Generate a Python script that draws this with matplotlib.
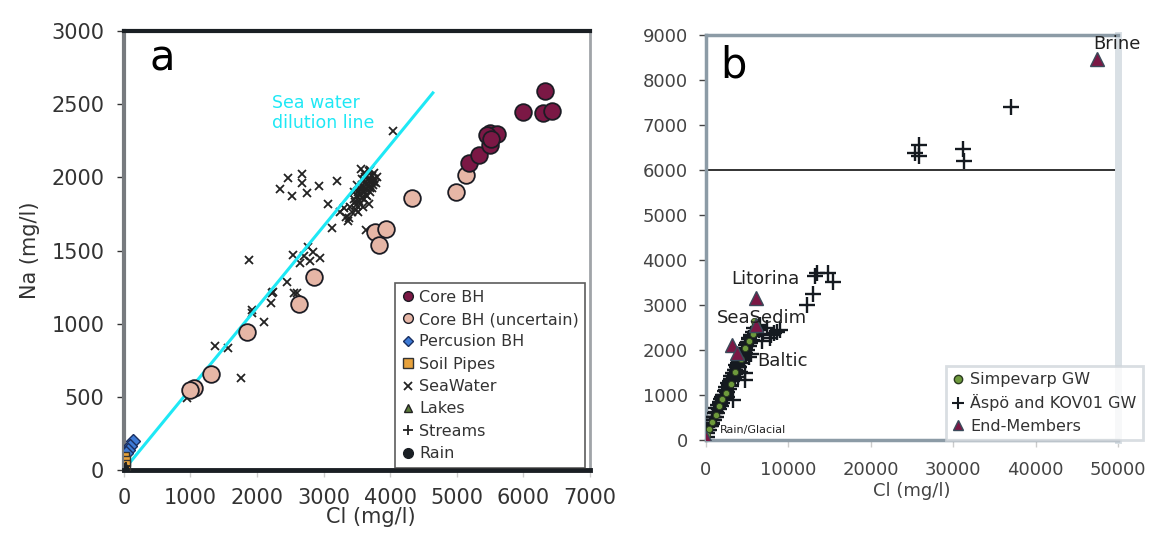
import matplotlib
matplotlib.use("Agg")
import matplotlib.pyplot as plt
from matplotlib.lines import Line2D

plt.rcParams['font.family'] = ['DejaVu Sans']

# ---- panel a : Na vs Cl, surface and near-surface waters ----
core_bh_cl = [5180, 5330, 5495, 5495, 5600, 5450, 5520, 5990, 6290, 6426, 6321]
core_bh_na = [2099, 2153, 2221, 2304, 2297, 2290, 2260, 2447, 2440, 2454, 2590]

core_unc_cl = [4324, 3770, 3934, 3830, 2853, 2628, 1847, 1306, 1051, 1000, 4985, 5135]
core_unc_na = [1859, 1627, 1647, 1538, 1319, 1135, 943, 656, 560, 545, 1900, 2016]

perc_cl = [140, 100, 60, 30]
perc_na = [195, 165, 140, 115]

soil_cl = [10, 20, 15]
soil_na = [90, 60, 35]

lakes_cl = [10, 25]
lakes_na = [15, 25]

streams_cl = [15, 30, 40]
streams_na = [20, 30, 10]

rain_cl = [2]
rain_na = [2]

sea_cl = [2462, 2673, 2673, 2342, 2522, 2748, 2928, 3198, 3063, 3333, 3123, 3633,
          1877, 2447, 2597, 2222, 1366, 1561, 1757, 2102, 2207, 2237, 1922, 1922,
          2552, 2537, 2643, 2763, 2838, 2943, 961, 946, 4040, 2700, 2800,
          3400, 3450, 3500, 3520, 3550, 3580, 3600, 3620, 3650, 3680, 3700, 3560,
          3600, 3750, 3780, 3720, 3690, 3650, 3600, 3550, 3480, 3420, 3380, 3360,
          3700, 3760, 3800, 3640, 3560, 3500, 3450, 3590, 3680, 3520, 3300, 3250,
          3610, 3660, 3710, 3740, 3570, 3630, 3530, 3470, 3670, 3720, 3590, 3640,
          3540, 3490, 3700, 3760, 3620, 3580]
sea_na = [1996, 2023, 1962, 1920, 1873, 1893, 1941, 1975, 1818, 1729, 1654, 1640,
          1435, 1285, 1210, 1210, 848, 834, 629, 1012, 1141, 1217, 1094, 1070,
          1210, 1470, 1415, 1524, 1490, 1449, 547, 492, 2320, 1460, 1430,
          1800, 1850, 1870, 1900, 1920, 1950, 1980, 2000, 2010, 2040, 2050, 2060,
          2030, 1990, 1960, 1930, 1900, 1870, 1850, 1820, 1780, 1760, 1720, 1700,
          1980, 2030, 2000, 1950, 1890, 1950, 1900, 1800, 1820, 1760, 1790, 1760,
          1910, 1940, 1970, 1950, 1860, 1880, 1840, 1830, 1990, 2010, 1930, 1920,
          1880, 1810, 1930, 1970, 1960, 1990]

dilution_cl = [0, 4640]
dilution_na = [0, 2577]

# ---- panel b : groundwaters and end-members ----
simp_cl = [6000, 5900, 6100, 5700, 5300, 4800, 4300, 3600, 3000, 2500, 2000, 1600,
           1200, 800, 400, 200, 6200, 5800]
simp_na = [2600, 2500, 2450, 2350, 2200, 2050, 1800, 1500, 1250, 1050, 900, 750,
           560, 400, 250, 120, 2550, 2650]

aspo_cl = [37010, 25360, 25890, 25890, 31150, 31350, 13230, 14800, 15430, 13000,
           12250, 13500, 8600, 7770, 9000, 4730, 4730, 3300,
           200, 400, 600, 800, 1000, 1200, 1400, 1600, 1800, 2000, 2200, 2400,
           2600, 2800, 3000, 3200, 3400, 3600, 3800, 4000, 4200, 4400, 4600, 4800,
           5000, 5200, 5400, 5600, 5800, 6000, 3000, 3500, 4000, 4500, 5000, 5500,
           2500, 2000, 1500, 1000, 6500, 7000, 6800, 5500, 4200,
           100, 300, 500, 700, 900, 1100, 1300, 1500, 1700, 1900, 2100, 2300,
           2500, 2700, 2900, 3100, 3300, 3500, 3700, 3900, 4100, 4300, 4500, 4700,
           4900, 5100, 5300, 5500, 5700, 5900, 2800, 3300, 3800, 4300, 4800, 5300,
           2200, 1700, 1200, 700, 6300, 6600, 7400, 7900, 8300, 5200, 3900, 2600]
aspo_na = [7393, 6384, 6556, 6311, 6460, 6200, 3644, 3718, 3510, 3240,
           3000, 3700, 2400, 2270, 2450, 1490, 1333, 890,
           150, 230, 300, 380, 450, 520, 600, 680, 750, 820, 900, 980,
           1060, 1130, 1200, 1300, 1380, 1460, 1540, 1620, 1700, 1780, 1850, 1930,
           2000, 2080, 2150, 2230, 2300, 2380, 1350, 1550, 1750, 1900, 2150, 2300,
           1100, 950, 700, 520, 2450, 2350, 2200, 1900, 1500,
           60, 220, 320, 440, 520, 600, 700, 770, 850, 920, 1010, 1080,
           1180, 1260, 1320, 1420, 1480, 1560, 1660, 1720, 1800, 1880, 1960, 2030,
           2110, 2180, 2260, 2330, 2410, 2480, 1220, 1420, 1630, 1850, 2050, 2250,
           1010, 830, 620, 350, 2500, 2560, 2480, 2330, 2380, 1850, 1400, 950]

end_names = ['Brine', 'Litorina', 'SeaSedim', 'Baltic', 'Baltic', 'Rain/Glacial']
end_cl = [47400, 6150, 6100, 3240, 3800, 50]
end_na = [8460, 3163, 2550, 2111, 1940, 40]

fig = plt.figure(figsize=(11.57, 5.4), dpi=100)
fig.patch.set_facecolor('white')

ax1 = fig.add_axes([0.107, 0.1296, 0.403, 0.813])
ax2 = fig.add_axes([0.610, 0.1852, 0.3563, 0.750])

maroon = '#7b1845'
peach = '#e6b6a6'
edge = '#1c1c24'

# panel a
ax1.plot(sea_cl, sea_na, 'x', color='#222222', ms=6, mew=1.3, zorder=3)
ax1.plot(dilution_cl, dilution_na, '-', color='#1ee8f5', lw=2.2, zorder=4)
ax1.plot(core_unc_cl, core_unc_na, 'o', color=peach, mec=edge, ms=12, mew=1.3, zorder=5)
ax1.plot(core_bh_cl, core_bh_na, 'o', color=maroon, mec=edge, ms=12, mew=1.3, zorder=6)
ax1.plot(perc_cl, perc_na, 'D', color='#3d7ad6', mec='#1a2f60', ms=7, mew=1, zorder=6)
ax1.plot(soil_cl, soil_na, 's', color='#e8a23c', mec='#333333', ms=7, mew=1, zorder=6)
ax1.plot(lakes_cl, lakes_na, '^', color='#5a7a3a', mec='#222222', ms=6, mew=1, zorder=6)
ax1.plot(streams_cl, streams_na, '+', color='#222222', ms=6, mew=1.3, zorder=6)
ax1.plot(rain_cl, rain_na, 'o', color='#1a1f24', ms=6, zorder=6)

ax1.set_xlim(0, 7000)
ax1.set_ylim(0, 3000)
ax1.set_xticks(range(0, 7001, 1000))
ax1.set_yticks(range(0, 3001, 500))
ax1.tick_params(axis='both', labelsize=15, colors='#333333', length=5, width=1)
ax1.tick_params(axis='x', pad=8, color='#cccccc')
ax1.tick_params(axis='y', pad=9)
ax1.spines['top'].set_color('#1a1f24')
ax1.spines['top'].set_linewidth(3)
ax1.spines['bottom'].set_color('#1a1f24')
ax1.spines['bottom'].set_linewidth(3.5)
ax1.spines['left'].set_color('#777a7e')
ax1.spines['left'].set_linewidth(3)
ax1.spines['right'].set_color('#a0a4a8')
ax1.spines['right'].set_linewidth(2)
ax1.set_xlabel('Cl (mg/l)', fontsize=15, color='#333333')
ax1.xaxis.set_label_coords(0.53, -0.085)
ax1.set_ylabel('Na (mg/l)', fontsize=15, color='#333333', labelpad=8)
ax1.text(0.056, 0.911, 'a', transform=ax1.transAxes, fontsize=30,
         va='baseline', ha='left')
ax1.text(2222, 2440, 'Sea water\ndilution line', color='#1ee8f5', fontsize=12.5,
         ha='left', va='center', linespacing=1.2)

handles_a = [
    Line2D([], [], ls='', marker='o', color=maroon, mec=edge, ms=7),
    Line2D([], [], ls='', marker='o', color=peach, mec=edge, ms=7),
    Line2D([], [], ls='', marker='D', color='#3d7ad6', mec='#1a2f60', ms=5),
    Line2D([], [], ls='', marker='s', color='#e8a23c', mec='#333333', ms=7),
    Line2D([], [], ls='', marker='x', color='#222222', ms=6, mew=1.3),
    Line2D([], [], ls='', marker='^', color='#5a7a3a', mec='#222222', ms=6),
    Line2D([], [], ls='', marker='+', color='#222222', ms=7, mew=1.3),
    Line2D([], [], ls='', marker='o', color='#1a1f24', ms=7),
]
labels_a = ['Core BH', 'Core BH (uncertain)', 'Percusion BH', 'Soil Pipes',
            'SeaWater', 'Lakes', 'Streams', 'Rain']
leg_a = ax1.legend(handles_a, labels_a, loc='upper left', bbox_to_anchor=(0.581, 0.426),
                   borderaxespad=0, fontsize=11.5, frameon=True, fancybox=False,
                   handlelength=0.8, handletextpad=0.3, labelspacing=0.46,
                   borderpad=0.42, labelcolor='#333333')
leg_a.get_frame().set_edgecolor('#333333')
leg_a.get_frame().set_linewidth(1.2)
leg_a.set_zorder(10)

# panel b
ax2.axhline(6000, color='#111111', lw=1.2, zorder=1)
ax2.plot(aspo_cl, aspo_na, '+', color='#151a20', ms=11, mew=1.7, zorder=3)
ax2.plot(simp_cl, simp_na, 'o', color='#6e9a3c', mec='#2a3a20', ms=4.5, mew=0.6, zorder=4)
ax2.plot(end_cl, end_na, '^', color='#7b1845', mec='#3a4a5a', ms=10, mew=1, zorder=5)

label_pos = {
    'Brine': (47000, 8800, 'left'),
    'Litorina': (11400, 3580, 'right'),
    'SeaSedim': (12250, 2720, 'right'),
    'Rain/Glacial': (1700, 220, 'left'),
}
for name, cl, na in zip(end_names, end_cl, end_na):
    if name in label_pos:
        lx, ly, ha = label_pos[name]
        size = 8 if name == 'Rain/Glacial' else 13
        ax2.text(lx, ly, name, fontsize=size, ha=ha, va='center', color='#222222', zorder=6)
ax2.text(6300, 1760, 'Baltic', fontsize=13, ha='left', va='center', color='#222222', zorder=6)

ax2.set_xlim(0, 50000)
ax2.set_ylim(0, 9000)
ax2.set_xticks(range(0, 50001, 10000))
ax2.set_yticks(range(0, 9001, 1000))
ax2.tick_params(axis='both', labelsize=13, colors='#444444', length=5, width=1)
ax2.tick_params(axis='x', pad=10, color='#cccccc')
ax2.tick_params(axis='y', pad=8)
for side in ['left', 'top', 'bottom']:
    ax2.spines[side].set_color('#8c9ba6')
    ax2.spines[side].set_linewidth(2.5)
ax2.spines['right'].set_color('#d9e0e5')
ax2.spines['right'].set_linewidth(5)
ax2.set_xlabel('Cl (mg/l)', fontsize=13, color='#444444', labelpad=2)
ax2.text(0.035, 0.894, 'b', transform=ax2.transAxes, fontsize=30,
         va='baseline', ha='left')

handles_b = [
    Line2D([], [], ls='', marker='o', color='#6e9a3c', mec='#2a3a20', ms=6),
    Line2D([], [], ls='', marker='+', color='#151a20', ms=8, mew=1.5),
    Line2D([], [], ls='', marker='^', color='#7b1845', mec='#3a4a5a', ms=7),
]
labels_b = ['Simpevarp GW', 'Äspö and KOV01 GW', 'End-Members']
leg_b = ax2.legend(handles_b, labels_b, loc='upper left', bbox_to_anchor=(0.583, 0.183),
                   borderaxespad=0, fontsize=11.5, frameon=True, fancybox=False,
                   handlelength=0.7, handletextpad=0.4, labelspacing=0.45,
                   borderpad=0.4, labelcolor='#333333')
leg_b.get_frame().set_edgecolor('#d0d6db')
leg_b.get_frame().set_linewidth(2)
leg_b.set_zorder(10)

fig.savefig('out.png', dpi=100)
